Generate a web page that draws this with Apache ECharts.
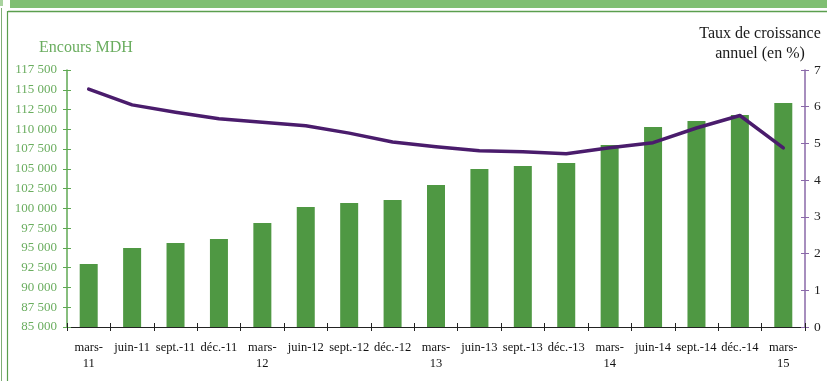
<!DOCTYPE html>
<html>
<head>
<meta charset="utf-8">
<script src="https://cdn.jsdelivr.net/npm/echarts@6/dist/echarts.min.js"></script>
<style>
  html, body { margin: 0; padding: 0; background: #fff; }
  #chart { width: 827px; height: 381px; }
</style>
</head>
<body>
<div id="chart"></div>
<script>
// Quarterly periods
const categories = ['mars-11', 'juin-11', 'sept.-11', 'déc.-11', 'mars-12', 'juin-12', 'sept.-12', 'déc.-12',
  'mars-13', 'juin-13', 'sept.-13', 'déc.-13', 'mars-14', 'juin-14', 'sept.-14', 'déc.-14', 'mars-15'];

// Outstanding amount (MDH), left axis
const encours = [92970, 95000, 95620, 96130, 98150, 100180, 100680, 101060,
  102960, 104980, 105360, 105740, 108020, 110290, 111050, 111810, 113330];

// Annual growth rate (%), right axis
const croissance = [6.48, 6.05, 5.85, 5.67, 5.58, 5.48, 5.28, 5.04,
  4.91, 4.80, 4.77, 4.72, 4.88, 5.02, 5.42, 5.76, 4.88];

// Axis scales
const leftMin = 85000, leftMax = 117500, leftStep = 2500;
const rightMin = 0, rightMax = 7, rightStep = 1;

const serif = '"Liberation Serif", "DejaVu Serif", serif';
const green = '#4f9843';
const greenAxis = '#5fa853';
const greenText = '#6aad5f';
const purple = '#4a1c6c';
const purpleAxis = '#8a68a8';

const gridBox = { left: 67, right: 22, top: 70, bottom: 54 };

function thousands(v) {
  return String(v).replace(/\B(?=(\d{3})+(?!\d))/g, ' ');
}

const chart = echarts.init(document.getElementById('chart'), null, { renderer: 'canvas' });

chart.setOption({
  animation: false,
  backgroundColor: '#fff',
  grid: [
    Object.assign({ containLabel: false }, gridBox),
    Object.assign({ containLabel: false }, gridBox)
  ],
  xAxis: [
    {
      type: 'category', gridIndex: 0, data: categories, boundaryGap: true,
      axisLine: { lineStyle: { color: '#222', width: 1 } },
      axisTick: { show: true, inside: false, length: 4, interval: 0, lineStyle: { color: '#222' } },
      axisLabel: {
        interval: 0, margin: 13, color: '#111', fontFamily: serif, fontSize: 12.5, lineHeight: 16,
        formatter: v => v.indexOf('mars-') === 0 ? 'mars-\n' + v.slice(5) : v
      },
      splitLine: { show: false }
    },
    {
      type: 'category', gridIndex: 1, data: categories, boundaryGap: true,
      axisLine: { show: false },
      axisTick: { show: true, inside: true, length: 4, interval: 0, lineStyle: { color: '#222' } },
      axisLabel: { show: false },
      splitLine: { show: false }
    }
  ],
  yAxis: [
    {
      type: 'value', gridIndex: 0, position: 'left', min: leftMin, max: leftMax, interval: leftStep,
      axisLine: { show: true, lineStyle: { color: greenAxis, width: 1.5 } },
      axisTick: { show: true, inside: false, length: 4, lineStyle: { color: greenAxis } },
      axisLabel: { margin: 10, color: greenText, fontFamily: serif, fontSize: 13, formatter: thousands },
      splitLine: { show: false }
    },
    {
      type: 'value', gridIndex: 0, position: 'right', min: rightMin, max: rightMax, interval: rightStep,
      axisLine: { show: true, lineStyle: { color: purpleAxis, width: 1.5 } },
      axisTick: { show: true, inside: false, length: 4, lineStyle: { color: purpleAxis } },
      axisLabel: { margin: 9, color: '#222', fontFamily: serif, fontSize: 13.5 },
      splitLine: { show: false }
    },
    {
      type: 'value', gridIndex: 1, position: 'left', min: leftMin, max: leftMax, interval: leftStep,
      axisLine: { show: false },
      axisTick: { show: true, inside: true, length: 4, lineStyle: { color: greenAxis } },
      axisLabel: { show: false },
      splitLine: { show: false }
    },
    {
      type: 'value', gridIndex: 1, position: 'right', min: rightMin, max: rightMax, interval: rightStep,
      axisLine: { show: false },
      axisTick: { show: true, inside: true, length: 4, lineStyle: { color: purpleAxis } },
      axisLabel: { show: false },
      splitLine: { show: false }
    }
  ],
  series: [
    {
      name: 'Encours MDH', type: 'bar', xAxisIndex: 0, yAxisIndex: 0,
      data: encours, barWidth: 18,
      itemStyle: { color: green }
    },
    {
      name: 'Taux de croissance annuel (en %)', type: 'line', xAxisIndex: 0, yAxisIndex: 1,
      data: croissance, symbol: 'none', smooth: false,
      lineStyle: { color: purple, width: 3.5, join: 'round', cap: 'round' },
      z: 5
    }
  ],
  graphic: [
    // page frame: header band and green border lines
    { type: 'rect', shape: { x: 10, y: 0, width: 817, height: 8 }, style: { fill: '#7fbf72' }, silent: true },
    { type: 'rect', shape: { x: 0, y: 0, width: 3, height: 6 }, style: { fill: '#a9d39f' }, silent: true },
    { type: 'line', shape: { x1: 8, y1: 11.5, x2: 827, y2: 11.5 }, style: { stroke: '#5a9e4e', lineWidth: 1.5 }, silent: true },
    { type: 'line', shape: { x1: 7.5, y1: 11, x2: 7.5, y2: 381 }, style: { stroke: '#5a9e4e', lineWidth: 1.2 }, silent: true },
    { type: 'line', shape: { x1: 1.5, y1: 8, x2: 1.5, y2: 381 }, style: { stroke: '#7fae76', lineWidth: 1 }, silent: true },
    // axis titles
    {
      type: 'text', left: 39, top: 40,
      style: { text: 'Encours MDH', fill: greenText, font: '16px ' + serif }
    },
    {
      type: 'text', x: 760, y: 24,
      style: {
        text: 'Taux de croissance\nannuel (en %)', fill: '#1a1a1a', font: '16px ' + serif,
        align: 'center', lineHeight: 20
      }
    }
  ]
});
</script>
</body>
</html>
